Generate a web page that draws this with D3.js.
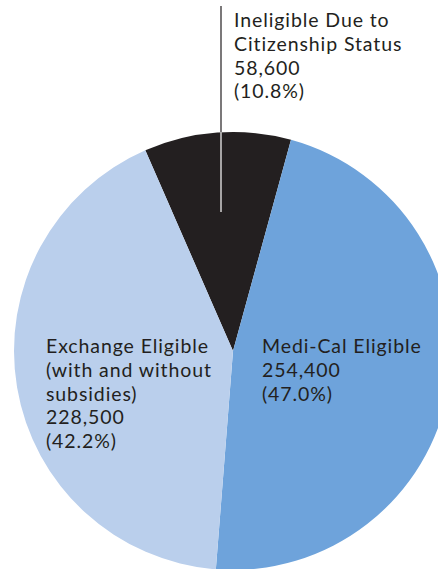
<!DOCTYPE html>
<html>
<head>
<meta charset="utf-8">
<script src="https://cdn.jsdelivr.net/npm/d3@7"></script>
<style>
  html, body { margin: 0; padding: 0; background: #fff; }
  svg text { font-family: Lato, "Open Sans", sans-serif; fill: #231f20; }
</style>
</head>
<body>
<div id="container"></div>
<script>
const WIDTH = 438;
const HEIGHT = 569;
const CX = 233;
const CY = 351;
const RADIUS = 219;
const FONT_SIZE = 19.5;
const LINE_H = 23.8;

const categories = ['Ineligible Due to Citizenship Status', 'Medi-Cal Eligible', 'Exchange Eligible (with and without subsidies)'];
const values = [58600, 254400, 228500];
const percents = ['10.8%', '47.0%', '42.2%'];
const labelLines = [
  ['Ineligible Due to', 'Citizenship Status'],
  ['Medi-Cal Eligible'],
  ['Exchange Eligible', '(with and without', 'subsidies)']
];
const colors = ['#231f20', '#6ea3db', '#bacfec'];

const startDeg = -23.6;
const toRad = d => d * Math.PI / 180;

const data = categories.map((c, i) => ({
  name: c, value: values[i], pct: percents[i], lines: labelLines[i], color: colors[i]
}));

const svg = d3.select('#container')
              .append('svg')
                .attr('width', WIDTH)
                .attr('height', HEIGHT);

const pie = d3.pie()
              .sort(null)
              .value(d => d.value)
              .startAngle(toRad(startDeg))
              .endAngle(toRad(startDeg) + 2 * Math.PI);

const arc = d3.arc().innerRadius(0).outerRadius(RADIUS);

const chart = svg.append('g')
                 .attr('transform', `translate(${CX}, ${CY})`);

chart.selectAll('path')
     .data(pie(data))
     .enter()
     .append('path')
       .attr('d', arc)
       .attr('fill', d => d.data.color);

// leader line for the small slice: black outside the pie, white inside
const leaderX = 221 - CX;
const edgeY = -Math.sqrt(RADIUS * RADIUS - leaderX * leaderX);
chart.append('line')
     .attr('x1', leaderX).attr('x2', leaderX)
     .attr('y1', 6 - CY).attr('y2', edgeY)
     .attr('stroke', '#231f20')
     .attr('stroke-width', 1.2);
chart.append('line')
     .attr('x1', leaderX).attr('x2', leaderX)
     .attr('y1', edgeY).attr('y2', 212 - CY)
     .attr('stroke', '#fff')
     .attr('stroke-width', 1.2);

const labelPos = [[234, 27], [262, 353], [46, 353]];

const labels = svg.selectAll('text.label')
                  .data(data)
                  .enter()
                  .append('text')
                    .attr('class', 'label')
                    .attr('x', (d, i) => labelPos[i][0])
                    .attr('y', (d, i) => labelPos[i][1])
                    .attr('font-size', FONT_SIZE)
                    .attr('letter-spacing', 0.9);

labels.each(function(d, i) {
  const t = d3.select(this);
  const lines = [...d.lines, d3.format(',')(d.value), `(${d.pct})`];
  lines.forEach((l, j) => {
    t.append('tspan')
     .attr('x', labelPos[i][0])
     .attr('dy', j === 0 ? 0 : LINE_H)
     .text(l);
  });
});
</script>
</body>
</html>
